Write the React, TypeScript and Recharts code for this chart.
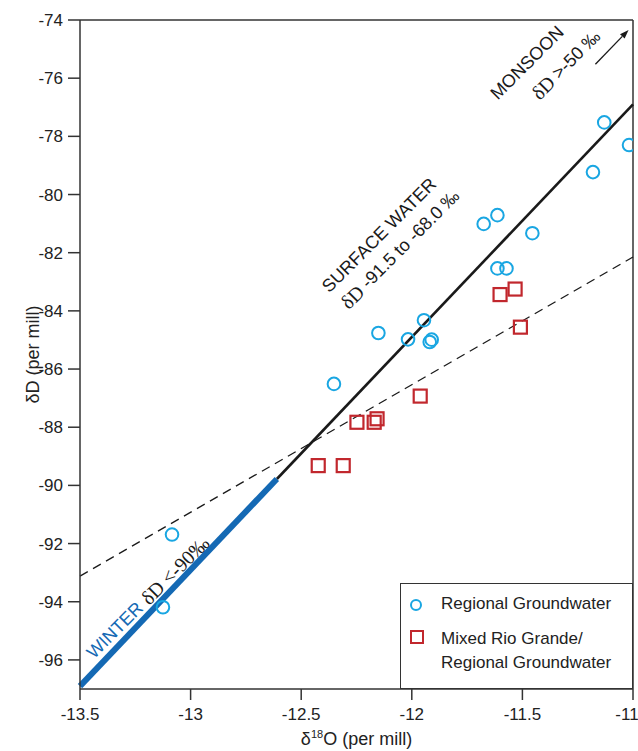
import {
  ComposedChart, Scatter, XAxis, YAxis, ReferenceLine, ReferenceDot, Label,
} from 'recharts'

// Regional groundwater (circles)
const regionalO18 = [-11.13, -11.018, -11.181, -11.613, -11.675, -11.455, -11.613, -11.572, -11.945, -12.151, -12.017, -11.919, -11.91, -12.352, -13.084, -13.125]
const regionalD = [-77.52, -78.3, -79.23, -80.71, -81.01, -81.33, -82.54, -82.54, -84.32, -84.76, -84.98, -85.07, -84.99, -86.51, -91.69, -94.19]

// Mixed Rio Grande / regional groundwater (squares)
const mixedO18 = [-11.601, -11.533, -11.509, -11.962, -12.248, -12.17, -12.157, -12.423, -12.31]
const mixedD = [-83.44, -83.25, -84.56, -86.93, -87.83, -87.83, -87.71, -89.32, -89.32]

// line end points [d18O, dD]
const winterLine = [[-13.5, -96.9], [-12.61, -89.78]]
const surfaceLine = [[-12.61, -89.78], [-11.0, -76.9]]
const mixingLine = [[-13.5, -93.12], [-11.0, -82.15]]
const monsoonArrow = [[-11.17, -75.52], [-11.02, -74.34]]

const xTicks = [-13.5, -13, -12.5, -12, -11.5, -11]
const yTicks = [-74, -76, -78, -80, -82, -84, -86, -88, -90, -92, -94, -96]

const seriesNames = ['Regional Groundwater', 'Mixed Rio Grande/', 'Regional Groundwater']

// annotations: [d18O, dD, text parts, colour]
const notes = [
  { x: -12.148, y: -81.4, parts: [['SURFACE WATER', 'sans']], color: '#1a1a1a' },
  { x: -12.053, y: -81.88, parts: [['δD', 'serif'], [' -91.5 to -68.0 ‰', 'sans']], color: '#1a1a1a' },
  { x: -11.479, y: -75.47, parts: [['MONSOON', 'sans']], color: '#1a1a1a' },
  { x: -11.303, y: -75.54, parts: [['δD', 'serif'], [' >-50 ‰', 'sans']], color: '#1a1a1a' },
  { x: -13.342, y: -94.98, parts: [['WINTER', 'sans']], color: '#1469b4' },
  { x: -13.071, y: -92.92, parts: [['δD <-90‰', 'serif']], color: '#1a1a1a' },
]

const regional = regionalO18.map((x, i) => ({ x, y: regionalD[i] }))
const mixed = mixedO18.map((x, i) => ({ x, y: mixedD[i] }))
const seg = (p: number[][]) => p.map(([x, y]) => ({ x, y }))

const SANS = '"Liberation Sans", Arial, sans-serif'
const SERIF = '"Liberation Serif", "Times New Roman", serif'
const CYAN = '#19a6e2'
const RED = '#c1272d'
const AXIS = '#333'

const CircleMark = (p: any) => (
  <circle cx={p.cx} cy={p.cy} r={6.3} fill="none" stroke={CYAN} strokeWidth={2} />
)
const SquareMark = (p: any) => (
  <rect x={p.cx - 6.5} y={p.cy - 6.5} width={13} height={13} fill="none" stroke={RED} strokeWidth={2.2} />
)

const Arrow = (p: any) => {
  const { x1, y1, x2, y2 } = p
  const a = Math.atan2(y2 - y1, x2 - x1)
  const l = 9, w = 3.2
  const bx = x2 - l * Math.cos(a), by = y2 - l * Math.sin(a)
  const pts = `${x2},${y2} ${bx - w * Math.sin(a)},${by + w * Math.cos(a)} ${bx + w * Math.sin(a)},${by - w * Math.cos(a)}`
  return (
    <g>
      <line x1={x1} y1={y1} x2={bx} y2={by} stroke="#1a1a1a" strokeWidth={1.3} />
      <polygon points={pts} fill="#1a1a1a" />
    </g>
  )
}

const noteShape = (n: typeof notes[number]) => (p: any) => (
  <text x={p.cx} y={p.cy} transform={`rotate(-45 ${p.cx} ${p.cy})`} textAnchor="middle"
    dominantBaseline="central" fontSize={18} fill={n.color}>
    {n.parts.map(([t, f], i) => (
      <tspan key={i} fontFamily={f === 'serif' ? SERIF : SANS} fontSize={f === 'serif' ? 20 : 18}>{t}</tspan>
    ))}
  </text>
)

function LegendBox() {
  return (
    <div style={{
      position: 'absolute', left: 400, top: 583, width: 233, height: 106, boxSizing: 'border-box',
      border: `1.5px solid ${AXIS}`, background: '#fff', fontFamily: SANS, fontSize: 17, color: '#222',
    }}>
      <svg width={20} height={20} style={{ position: 'absolute', left: 5, top: 11 }}>
        <circle cx={10} cy={10} r={5} fill="none" stroke={CYAN} strokeWidth={2} />
      </svg>
      <div style={{ position: 'absolute', left: 40, top: 10, lineHeight: '20px' }}>{seriesNames[0]}</div>
      <svg width={20} height={20} style={{ position: 'absolute', left: 6, top: 43 }}>
        <rect x={4} y={4} width={12} height={12} fill="none" stroke={RED} strokeWidth={2} />
      </svg>
      <div style={{ position: 'absolute', left: 40, top: 43, lineHeight: '24px' }}>
        {seriesNames[1]}<br />{seriesNames[2]}
      </div>
    </div>
  )
}

export default function App() {
  return (
    <div style={{ position: 'absolute', left: 0, top: 0, width: 638, height: 751, background: '#fff' }}>
      <ComposedChart width={638} height={751} margin={{ top: 20, right: 5, left: 0, bottom: 0 }}>
        <XAxis type="number" dataKey="x" domain={[-13.5, -11]} ticks={xTicks} allowDataOverflow
          height={62} tickSize={11} tickMargin={8} stroke={AXIS} strokeWidth={1.5}
          tick={{ fontSize: 17, fill: '#222', fontFamily: SANS }}
          label={{
            content: (lp: any) => {
              const vb = lp.viewBox
              return (
                <text x={vb.x + vb.width / 2} y={vb.y + 56} textAnchor="middle" fontFamily={SANS} fontSize={18} fill="#222">
                  δ<tspan dy={-7} fontSize={11}>18</tspan><tspan dy={7}>O (per mill)</tspan>
                </text>
              )
            },
          }}
        />
        <YAxis type="number" dataKey="y" domain={[-97, -74]} ticks={yTicks} allowDataOverflow
          width={80} tickSize={12} tickMargin={5} stroke={AXIS} strokeWidth={1.5}
          tick={{ fontSize: 17, fill: '#222', fontFamily: SANS }}>
          <Label content={(lp: any) => {
            const vb = lp.viewBox
            const cy = vb.y + vb.height / 2
            return (
              <text x={33} y={cy} transform={`rotate(-90 33 ${cy})`} textAnchor="middle"
                dominantBaseline="central" fontFamily={SANS} fontSize={18} fill="#222">δD (per mill)</text>
            )
          }} />
        </YAxis>
        <ReferenceLine y={-74} stroke={AXIS} strokeWidth={1.5} />
        <ReferenceLine x={-11} stroke={AXIS} strokeWidth={1.5} />
        <ReferenceLine segment={seg(mixingLine)} stroke="#1a1a1a" strokeWidth={1.3} strokeDasharray="9 6" ifOverflow="visible" />
        <ReferenceLine segment={seg(surfaceLine)} stroke="#1a1a1a" strokeWidth={2.6} ifOverflow="visible" />
        <ReferenceLine segment={seg(winterLine)} stroke="#1469b4" strokeWidth={6} ifOverflow="visible" />
        <ReferenceLine segment={seg(monsoonArrow)} shape={Arrow} ifOverflow="visible" />
        {notes.map((n, i) => (
          <ReferenceDot key={i} x={n.x} y={n.y} r={0} shape={noteShape(n)} ifOverflow="visible" />
        ))}
        <Scatter data={regional} shape={CircleMark} isAnimationActive={false} />
        <Scatter data={mixed} shape={SquareMark} isAnimationActive={false} />
      </ComposedChart>
      <LegendBox />
    </div>
  )
}
